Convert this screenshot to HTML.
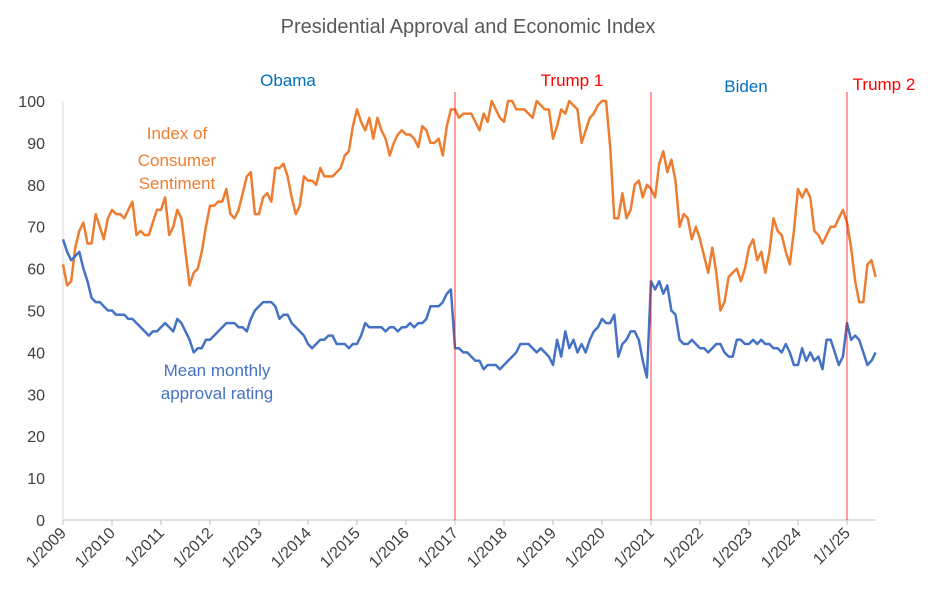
<!DOCTYPE html>
<html><head><meta charset="utf-8"><style>
body{margin:0;background:#fff;}
svg{display:block;font-family:"Liberation Sans",Calibri,sans-serif;}
</style></head><body>
<svg id="chart" width="936" height="604" xmlns="http://www.w3.org/2000/svg">
<rect width="936" height="604" fill="#fff"/>
<text x="468" y="33" text-anchor="middle" font-size="20" fill="#595959">Presidential Approval and Economic Index</text>
<g id="axes"></g>
<g id="series"></g>
<text x="288" y="86" text-anchor="middle" font-size="17" fill="#0070C0">Obama</text>
<text x="572" y="86" text-anchor="middle" font-size="17" fill="#FF0000">Trump 1</text>
<text x="746" y="92" text-anchor="middle" font-size="17" fill="#0070C0">Biden</text>
<text x="884" y="90" text-anchor="middle" font-size="17" fill="#FF0000">Trump 2</text>
<text text-anchor="middle" font-size="17" fill="#ED7D31"><tspan x="177" y="139">Index of</tspan><tspan x="177" y="166">Consumer</tspan><tspan x="177" y="189">Sentiment</tspan></text>
<text text-anchor="middle" font-size="17" fill="#4472C4"><tspan x="217" y="376">Mean monthly</tspan><tspan x="217" y="399">approval rating</tspan></text>
</svg>
<script>
const xLabels=["1/2009","1/2010","1/2011","1/2012","1/2013","1/2014","1/2015","1/2016","1/2017","1/2018","1/2019","1/2020","1/2021","1/2022","1/2023","1/2024","1/1/25"];
const yTicks=[0,10,20,30,40,50,60,70,80,90,100];
const sentiment=[61,56,57,65,69,71,66,66,73,70,67,72,
74,73,73,72,74,76,68,69,68,68,71,74,
74,77,68,70,74,72,64,56,59,60,64,70,
75,75,76,76,79,73,72,74,78,82,83,73,
73,77,78,76,84,84,85,82,77,73,75,82,
81,81,80,84,82,82,82,83,84,87,88,94,
98,95,93,96,91,96,93,91,87,90,92,93,
92,92,91,89,94,93,90,90,91,87,94,98,
98,96,97,97,97,95,93,97,95,100,98,96,
95,100,100,98,98,98,97,96,100,99,98,98,
91,94,98,97,100,99,98,90,93,96,97,99,
100,100,89,72,72,78,72,74,80,81,77,80,
79,77,85,88,83,86,81,70,73,72,67,70,
67,63,59,65,59,50,52,58,59,60,57,60,
65,67,62,64,59,64,72,69,68,64,61,69,
79,77,79,77,69,68,66,68,70,70,72,74,
71,65,57,52,52,61,62,58];
const approval=[67,64,62,63,64,60,57,53,52,52,51,50,
50,49,49,49,48,48,47,46,45,44,45,45,
46,47,46,45,48,47,45,43,40,41,41,43,
43,44,45,46,47,47,47,46,46,45,48,50,
51,52,52,52,51,48,49,49,47,46,45,44,
42,41,42,43,43,44,44,42,42,42,41,42,
42,44,47,46,46,46,46,45,46,46,45,46,
46,47,46,47,47,48,51,51,51,52,54,55,
41,41,40,40,39,38,38,36,37,37,37,36,
37,38,39,40,42,42,42,41,40,41,40,39,
37,43,39,45,41,43,40,42,40,43,45,46,
48,47,47,49,39,42,43,45,45,43,38,34,
57,55,57,54,56,50,49,43,42,42,43,42,
41,41,40,41,42,42,40,39,39,43,43,42,
42,43,42,43,42,42,41,41,40,42,40,37,
37,41,38,40,38,39,36,43,43,40,37,39,
47,43,44,43,40,37,38,40];
const termStarts=[96,144,192]; // month indices of Jan 2017, Jan 2021, Jan 2025

const NS="http://www.w3.org/2000/svg";
const X0=63,MW=49/12,Y0=520,YS=4.19;
const xPos=i=>X0+i*MW;
const yPos=v=>Y0-v*YS;
function mk(tag,attrs,parent){const e=document.createElementNS(NS,tag);for(const k in attrs)e.setAttribute(k,attrs[k]);parent.appendChild(e);return e;}
const axes=document.getElementById('axes'),ser=document.getElementById('series');
const ya=mk('line',{x1:X0,y1:yPos(100),x2:X0,y2:Y0,stroke:'#d9d9d9','stroke-width':1},axes);


const xa=mk('line',{x1:X0,y1:Y0,x2:xPos(sentiment.length-1),y2:Y0,stroke:'#bfbfbf','stroke-width':1},axes);


yTicks.forEach(t=>{
  const tx=mk('text',{x:45,y:yPos(t)+6,'text-anchor':'end','font-size':16,fill:'#404040'},axes);
  tx.textContent=t;
  
  
});
xLabels.forEach((l,i)=>{
  const x=xPos(i*12);
  const tk=mk('line',{x1:x,y1:Y0,x2:x,y2:Y0+5,stroke:'#bfbfbf'},axes);
  
  
  const tx=mk('text',{x:x+4,y:Y0+14,'text-anchor':'end','font-size':16,fill:'#404040',transform:`rotate(-45 ${x+4} ${Y0+14})`},axes);
  tx.textContent=l;
  
  
});
function line(arr,color,name){
  const p=mk('polyline',{points:arr.map((v,i)=>xPos(i).toFixed(1)+','+yPos(v).toFixed(1)).join(' '),fill:'none',stroke:color,'stroke-width':2.5,'stroke-linejoin':'round'},ser);
  
  
}
line(sentiment,'#ED7D31','sentiment-line');
line(approval,'#4472C4','approval-line');
termStarts.forEach(m=>{
  const l=mk('line',{x1:xPos(m),y1:92,x2:xPos(m),y2:Y0,stroke:'#FF0000','stroke-width':1,opacity:0.75},ser);
  
  
});
</script>
</body></html>
